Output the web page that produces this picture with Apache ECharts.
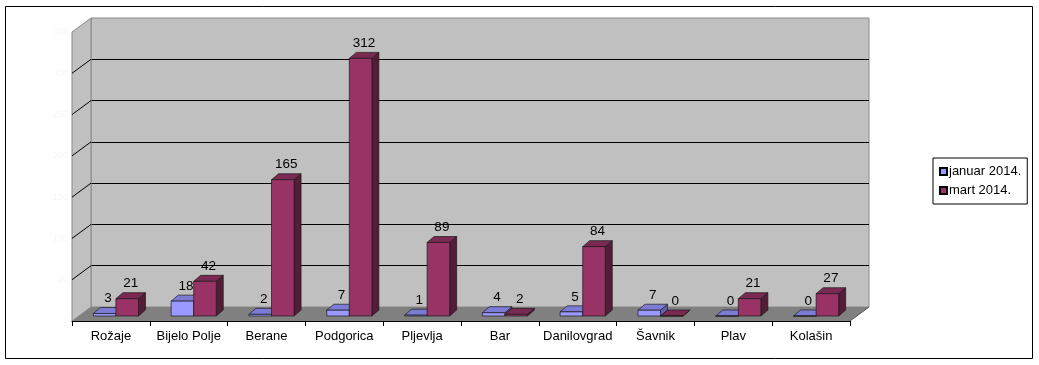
<!DOCTYPE html>
<html>
<head>
<meta charset="utf-8">
<script src="https://cdn.jsdelivr.net/npm/echarts@6/dist/echarts.min.js"></script>
<style>
html,body{margin:0;padding:0;background:#fff;}
#c{width:1039px;height:365px;}
</style>
</head>
<body>
<div id="c"></div>
<script>
// ---- data ----
const categories = ['Rožaje', 'Bijelo Polje', 'Berane', 'Podgorica', 'Pljevlja', 'Bar', 'Danilovgrad', 'Šavnik', 'Plav', 'Kolašin'];
const januar2014 = [3, 18, 2, 7, 1, 4, 5, 7, 0, 0];
const mart2014 = [21, 42, 165, 312, 89, 2, 84, 0, 21, 27];
const seriesNames = ['januar 2014.', 'mart 2014.'];
const yMin = 0, yMax = 350, yStep = 50;

// ---- style ----
const FONT = '"Liberation Sans", Arial, sans-serif';
const DEPTH_X = 19, DEPTH_Y = 14;      // wall depth
const BAR_DX = 5, BAR_DY = 5;          // bar front plane shift
const BAR_DEPTH_X = 7, BAR_DEPTH_Y = 6;
const palettes = [
  {front: '#9999ff', top: '#7c7cd6', side: '#6262b0'},
  {front: '#993366', top: '#7a2952', side: '#531c38'}
];

const chart = echarts.init(document.getElementById('c'), null, {renderer: 'canvas'});

function wallsRender(params, api) {
  const cs = params.coordSys;
  const x0 = cs.x, x1 = cs.x + cs.width;
  const y0 = api.coord([0, yMin])[1];
  const yT = api.coord([0, yMax])[1];
  const children = [];
  children.push({type: 'polygon', shape: {points: [[x0, yT], [x0, y0], [x0 + DEPTH_X, y0 - DEPTH_Y], [x0 + DEPTH_X, yT - DEPTH_Y]]},
    style: {fill: '#c0c0c0', stroke: '#8a8a8a', lineWidth: 1}});
  for (let v = yMin + yStep; v < yMax; v += yStep) {
    const y = api.coord([0, v])[1];
    children.push({type: 'line', shape: {x1: x0, y1: y, x2: x0 + DEPTH_X, y2: y - DEPTH_Y}, style: {stroke: '#000', lineWidth: 1}});
  }
  children.push({type: 'polygon', shape: {points: [[x0, y0], [x1, y0], [x1 + DEPTH_X, y0 - DEPTH_Y], [x0 + DEPTH_X, y0 - DEPTH_Y]]},
    style: {fill: '#808080', stroke: null}});
  children.push({type: 'line', shape: {x1: x1, y1: y0, x2: x1 + DEPTH_X, y2: y0 - DEPTH_Y}, style: {stroke: '#555', lineWidth: 1}});
  return {type: 'group', children: children};
}

function makeBarRender(si) {
  const pal = palettes[si];
  return function (params, api) {
    const idx = api.value(0), v = api.value(1);
    const base = api.coord([idx, 0]);
    const top = api.coord([idx, v]);
    const W = api.size([1, 0])[0];
    const bw = W * 0.29;
    const cx = base[0] + BAR_DX;
    const left = si === 0 ? cx - bw : cx;
    const by = base[1] - BAR_DY;
    const ty = top[1] - BAR_DY;
    const dx = BAR_DEPTH_X, dy = BAR_DEPTH_Y;
    const st = {stroke: '#1a1a1a', lineWidth: 0.7};
    return {type: 'group', children: [
      {type: 'polygon', shape: {points: [[left + bw, ty], [left + bw, by], [left + bw + dx, by - dy], [left + bw + dx, ty - dy]]},
        style: Object.assign({fill: pal.side}, st)},
      {type: 'polygon', shape: {points: [[left, ty], [left + bw, ty], [left + bw + dx, ty - dy], [left + dx, ty - dy]]},
        style: Object.assign({fill: pal.top}, st)},
      {type: 'rect', shape: {x: left, y: ty, width: bw, height: by - ty},
        style: Object.assign({fill: pal.front}, st)},
      {type: 'text', x: left + bw / 2 + dx / 2, y: ty - dy - 2,
        style: {text: String(v), fill: '#000', font: '13.5px ' + FONT, textAlign: 'center', textVerticalAlign: 'bottom'}}
    ]};
  };
}

const option = {
  animation: false,
  backgroundColor: '#fff',
  textStyle: {fontFamily: FONT},
  grid: [
    {left: 72 + DEPTH_X, top: 32 - DEPTH_Y, width: 778, height: 289, show: true, backgroundColor: '#c0c0c0', borderColor: '#8a8a8a', borderWidth: 1},
    {left: 72, top: 32, width: 778, height: 289}
  ],
  xAxis: [
    {gridIndex: 0, type: 'category', data: categories, show: false},
    {gridIndex: 1, type: 'category', data: categories, z: 10,
      axisLine: {lineStyle: {color: '#000', width: 1}},
      axisTick: {show: true, length: 5, lineStyle: {color: '#000'}},
      axisLabel: {color: '#000', fontSize: 13, fontFamily: FONT, margin: 9, interval: 0}}
  ],
  yAxis: [
    {gridIndex: 0, type: 'value', min: yMin, max: yMax, interval: yStep,
      axisLabel: {show: false}, axisLine: {show: false}, axisTick: {show: false},
      splitLine: {show: true, showMinLine: false, showMaxLine: false, lineStyle: {color: '#000', width: 1}}},
    {gridIndex: 1, type: 'value', min: yMin, max: yMax, interval: yStep,
      axisLabel: {show: true, color: '#f6f6f6', fontSize: 9, margin: 4}, axisLine: {show: false}, axisTick: {show: false},
      splitLine: {show: false}}
  ],
  legend: {
    data: seriesNames,
    orient: 'vertical',
    left: 933, top: 158,
    width: 95,
    padding: [7, 6, 7, 6],
    itemGap: 6,
    itemWidth: 7, itemHeight: 7,
    icon: 'rect',
    borderColor: '#000', borderWidth: 1,
    textStyle: {fontSize: 13, color: '#000', fontFamily: FONT, padding: [0, 0, 0, -3]}
  },
  series: [
    {type: 'custom', name: 'walls', xAxisIndex: 1, yAxisIndex: 1, silent: true, z: 1,
      data: [[0, 0]], renderItem: wallsRender},
    {type: 'custom', name: seriesNames[0], xAxisIndex: 1, yAxisIndex: 1, silent: true, z: 3,
      itemStyle: {color: palettes[0].front, borderColor: '#000', borderWidth: 0.7},
      data: januar2014.map((v, i) => [i, v]), encode: {x: 0, y: 1}, renderItem: makeBarRender(0)},
    {type: 'custom', name: seriesNames[1], xAxisIndex: 1, yAxisIndex: 1, silent: true, z: 4,
      itemStyle: {color: palettes[1].front, borderColor: '#000', borderWidth: 0.7},
      data: mart2014.map((v, i) => [i, v]), encode: {x: 0, y: 1}, renderItem: makeBarRender(1)}
  ],
  graphic: [
    {type: 'rect', silent: true, z: 100, shape: {x: 5.5, y: 6.5, width: 1027, height: 352},
      style: {fill: null, stroke: '#000', lineWidth: 1}}
  ]
};
chart.setOption(option);
</script>
</body>
</html>
